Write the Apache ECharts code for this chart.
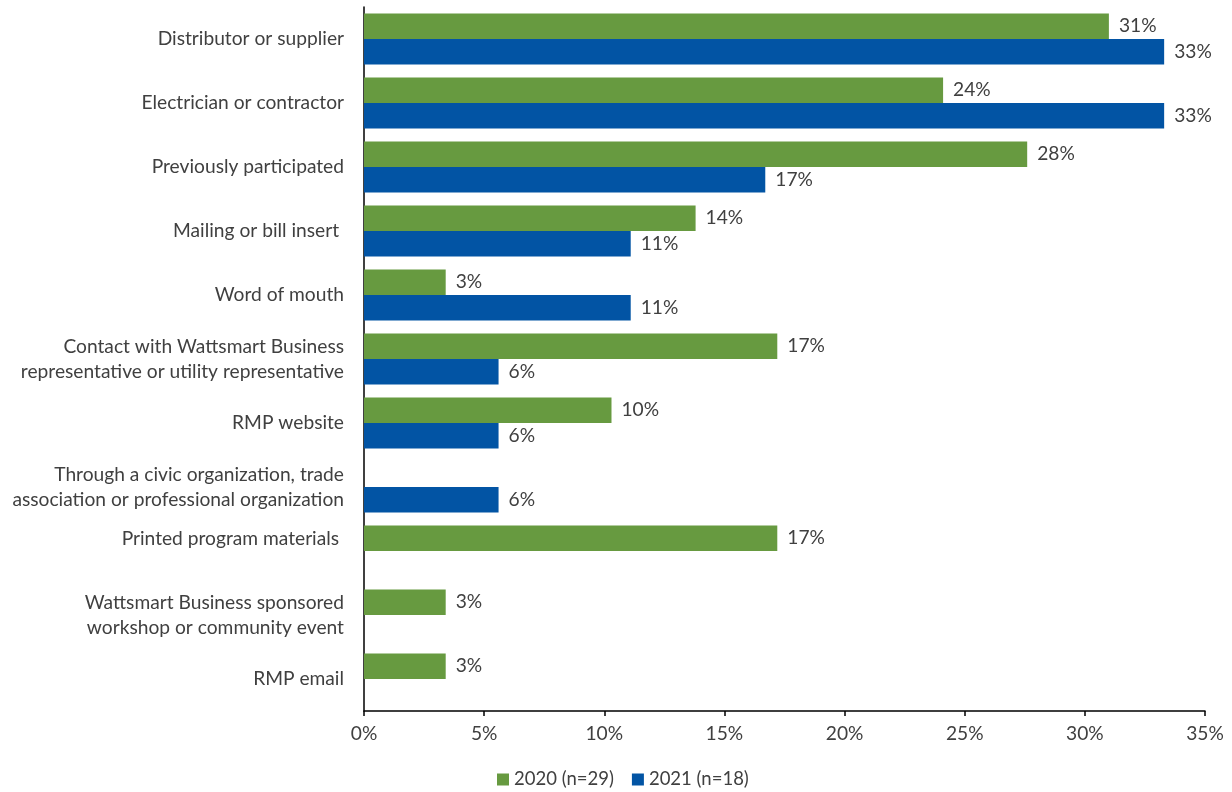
<!DOCTYPE html>
<html>
<head>
<meta charset="utf-8">
<script src="https://cdn.jsdelivr.net/npm/echarts@6/dist/echarts.min.js"></script>
<style>
  html, body { margin: 0; padding: 0; background: #fff; }
  #chart { width: 1232px; height: 792px; }
</style>
</head>
<body>
<div id="chart"></div>
<script>
// Sources of program awareness, share of respondents (%)
const categories = [
  'Distributor or supplier',
  'Electrician or contractor',
  'Previously participated',
  'Mailing or bill insert ',
  'Word of mouth',
  'Contact with Wattsmart Business\nrepresentative or utility representative',
  'RMP website',
  'Through a civic organization, trade\nassociation or professional organization',
  'Printed program materials \n ',
  'Wattsmart Business sponsored\nworkshop or community event',
  'RMP email'
];
const series2020 = [31.0, 24.1, 27.6, 13.8, 3.4, 17.2, 10.3, null, 17.2, 3.4, 3.4];
const series2021 = [33.3, 33.3, 16.7, 11.1, 11.1, 5.6, 5.6, 5.6, null, null, null];
const xTicks = { min: 0, max: 35, interval: 5 };

const FONT = 'Lato, "Open Sans", sans-serif';
const FS = 19.2;
const TEXT = '#404040';

const labelOpt = {
  show: true,
  position: 'right',
  distance: 10,
  color: TEXT,
  fontFamily: FONT,
  fontSize: FS,
  formatter: p => Math.round(p.value) + '%'
};

const chart = echarts.init(document.getElementById('chart'));
chart.setOption({
  animation: false,
  textStyle: { fontFamily: FONT },
  grid: { left: 364, right: 27, top: 7, bottom: 81, containLabel: false },
  legend: {
    top: 770,
    left: 497,
    padding: 0,
    itemWidth: 12,
    itemHeight: 12,
    itemGap: 18,
    icon: 'rect',
    textStyle: { color: TEXT, fontSize: 18.5, fontFamily: FONT },
    data: ['2020 (n=29)', '2021 (n=18)']
  },
  xAxis: {
    type: 'value',
    min: xTicks.min,
    max: xTicks.max,
    interval: xTicks.interval,
    splitLine: { show: false },
    axisLine: { show: true, lineStyle: { color: '#000', width: 1.5 } },
    axisTick: { show: true, length: 5, lineStyle: { color: '#000', width: 1.5 } },
    axisLabel: {
      color: TEXT, fontSize: FS, fontFamily: FONT, margin: 13,
      formatter: v => v + '%'
    }
  },
  yAxis: {
    type: 'category',
    inverse: true,
    data: categories,
    axisLine: { show: true, lineStyle: { color: '#000', width: 1.5 } },
    axisTick: { show: false },
    axisLabel: {
      color: TEXT, fontSize: FS, fontFamily: FONT, margin: 20,
      align: 'right', lineHeight: 25, interval: 0
    }
  },
  series: [
    {
      name: '2020 (n=29)',
      type: 'bar',
      data: series2020,
      barCategoryGap: '20%',
      barGap: '0%',
      itemStyle: { color: '#679A40' },
      label: labelOpt
    },
    {
      name: '2021 (n=18)',
      type: 'bar',
      data: series2021,
      barCategoryGap: '20%',
      barGap: '0%',
      itemStyle: { color: '#0254A4' },
      label: labelOpt
    }
  ]
});
</script>
</body>
</html>
